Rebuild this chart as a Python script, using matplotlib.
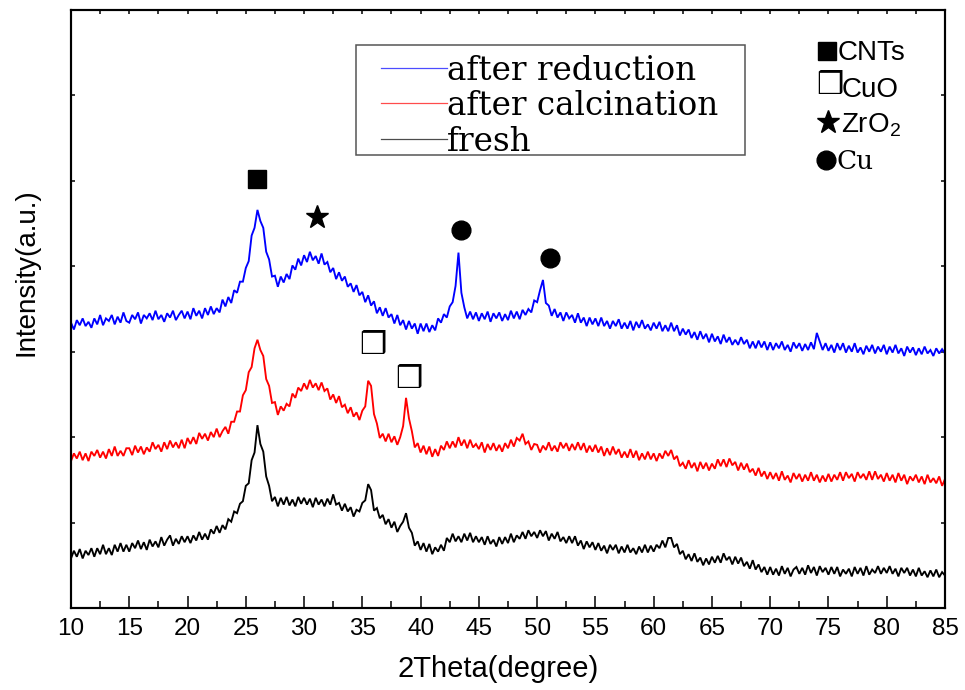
import numpy as np
import matplotlib
matplotlib.use("Agg")
import matplotlib.pyplot as plt
from matplotlib.patches import Rectangle
from matplotlib.ticker import MultipleLocator

# ---------------- data ----------------
# scan angles 2theta: 10 .. 85 deg, 0.25 deg step (301 points)
theta = np.linspace(10, 85, 301)

after_reduction = [
    334, 326, 337, 331, 339, 330, 335, 328, 339, 332, 343, 331, 339, 336, 343, 332, 341, 334, 346, 336,
    334, 343, 338, 346, 333, 343, 339, 345, 337, 348, 338, 343, 335, 345, 340, 348, 337, 343, 348, 339,
    347, 338, 351, 342, 348, 339, 351, 343, 353, 344, 351, 346, 361, 353, 364, 357, 372, 369, 382, 382,
    398, 406, 436, 445, 466, 453, 445, 417, 408, 388, 389, 376, 388, 381, 391, 385, 401, 396, 409, 401,
    413, 405, 417, 407, 412, 403, 415, 402, 405, 393, 398, 385, 393, 383, 388, 376, 380, 370, 378, 366,
    370, 358, 366, 354, 359, 345, 352, 342, 351, 340, 344, 333, 343, 331, 337, 326, 336, 327, 333, 321,
    333, 324, 333, 323, 331, 325, 339, 334, 344, 340, 353, 358, 377, 416, 369, 352, 339, 347, 338, 346,
    336, 345, 338, 347, 335, 345, 339, 346, 336, 344, 337, 348, 339, 347, 338, 349, 343, 350, 346, 360,
    358, 372, 384, 357, 354, 342, 350, 340, 346, 336, 346, 339, 343, 334, 345, 334, 340, 330, 340, 332,
    339, 330, 340, 330, 336, 327, 336, 330, 338, 327, 334, 327, 336, 325, 335, 328, 337, 327, 332, 325,
    334, 327, 335, 324, 331, 324, 334, 324, 331, 319, 327, 320, 326, 316, 323, 314, 324, 315, 321, 311,
    321, 312, 318, 309, 320, 311, 317, 308, 314, 308, 317, 309, 314, 304, 312, 304, 313, 305, 312, 302,
    311, 302, 310, 304, 312, 302, 308, 300, 311, 304, 310, 301, 309, 302, 311, 303, 322, 312, 302, 310,
    301, 308, 299, 310, 302, 310, 299, 307, 300, 310, 299, 305, 297, 307, 300, 308, 298, 306, 300, 308,
    297, 306, 299, 308, 298, 304, 295, 306, 299, 305, 296, 304, 297, 306, 298, 302, 295, 304, 298, 303, 298,
]

after_calcination = [
    172, 181, 175, 183, 173, 181, 172, 183, 178, 185, 176, 183, 175, 186, 178, 189, 178, 184, 178, 187,
    187, 179, 190, 182, 189, 180, 188, 183, 194, 186, 191, 183, 194, 186, 196, 188, 194, 187, 197, 187,
    199, 192, 200, 192, 205, 198, 204, 196, 206, 200, 210, 200, 207, 212, 204, 218, 218, 230, 230, 249,
    255, 276, 282, 304, 314, 302, 295, 268, 260, 240, 241, 226, 236, 231, 239, 236, 251, 246, 258, 254,
    263, 256, 267, 258, 263, 255, 264, 254, 257, 244, 250, 240, 248, 235, 238, 228, 235, 224, 229, 220,
    231, 236, 266, 260, 227, 216, 199, 204, 195, 204, 194, 201, 191, 200, 213, 246, 222, 207, 188, 193,
    182, 190, 180, 189, 177, 186, 178, 190, 185, 195, 187, 195, 188, 200, 190, 197, 187, 197, 188, 192,
    186, 194, 182, 192, 185, 193, 184, 191, 183, 193, 187, 197, 189, 199, 196, 204, 192, 195, 185, 192,
    191, 182, 190, 185, 194, 184, 190, 183, 194, 187, 193, 184, 192, 185, 194, 185, 193, 182, 190, 183,
    191, 182, 189, 178, 187, 179, 189, 180, 186, 176, 183, 176, 186, 176, 184, 173, 181, 174, 183, 174,
    181, 172, 181, 175, 184, 178, 185, 174, 178, 166, 170, 163, 173, 164, 170, 160, 171, 163, 170, 161,
    169, 163, 174, 166, 174, 165, 175, 167, 171, 161, 170, 162, 169, 159, 163, 155, 164, 154, 160, 151,
    159, 151, 158, 149, 160, 150, 155, 147, 158, 151, 157, 148, 156, 149, 159, 149, 156, 147, 155, 148,
    157, 148, 156, 150, 159, 149, 159, 152, 157, 148, 159, 152, 157, 150, 160, 150, 160, 151, 156, 148,
    158, 149, 156, 147, 158, 149, 156, 145, 154, 149, 156, 147, 154, 145, 156, 147, 152, 146, 154, 143, 151,
]

fresh = [
    58, 67, 60, 69, 58, 67, 62, 70, 60, 70, 63, 74, 63, 70, 62, 74, 66, 76, 66, 74,
    66, 76, 70, 79, 69, 77, 68, 80, 72, 78, 71, 83, 73, 80, 85, 73, 81, 75, 84, 77,
    84, 76, 85, 79, 89, 80, 87, 80, 92, 87, 96, 88, 97, 92, 104, 101, 113, 111, 122, 125,
    143, 146, 173, 182, 214, 192, 183, 154, 143, 125, 130, 119, 129, 121, 130, 120, 127, 119, 130, 122,
    129, 121, 128, 118, 129, 121, 127, 119, 128, 121, 133, 121, 123, 114, 122, 113, 118, 107, 115, 113,
    123, 126, 145, 138, 114, 117, 105, 109, 98, 104, 94, 101, 89, 96, 101, 111, 94, 88, 73, 78,
    68, 76, 66, 75, 63, 71, 66, 74, 67, 82, 77, 87, 78, 84, 77, 87, 79, 88, 77, 84,
    77, 83, 74, 84, 75, 80, 72, 83, 75, 83, 76, 87, 77, 85, 81, 89, 81, 91, 84, 89,
    82, 91, 84, 90, 79, 87, 81, 89, 78, 83, 76, 84, 76, 84, 73, 79, 69, 78, 71, 77,
    68, 76, 67, 73, 64, 74, 68, 74, 64, 72, 65, 74, 65, 70, 63, 72, 65, 74, 65, 73,
    66, 74, 70, 79, 71, 82, 82, 71, 75, 63, 67, 57, 63, 55, 64, 54, 59, 50, 58, 51,
    60, 53, 61, 53, 64, 56, 60, 51, 60, 52, 59, 49, 54, 46, 56, 45, 51, 42, 48, 39,
    48, 39, 46, 38, 49, 40, 47, 37, 45, 48, 40, 47, 39, 50, 41, 48, 38, 49, 42, 47,
    39, 48, 40, 48, 37, 45, 40, 46, 37, 48, 40, 47, 38, 49, 39, 45, 41, 49, 40, 47,
    41, 49, 40, 46, 37, 47, 41, 47, 38, 45, 37, 47, 38, 43, 36, 44, 37, 45, 36, 42, 38,
]

series_labels = ["after reduction", "after calcination", "fresh"]
series_colors = ["#0000ff", "#ff0000", "#000000"]

# peak annotations: (2theta, intensity) positions of phase symbols
cnt_peaks = [(26.0, 502)]
zro2_peaks = [(31.1, 458)]
cu_peaks = [(43.5, 443), (51.1, 410)]
cuo_peaks = [(35.9, 307), (39.0, 268)]

key_labels = ["CNTs", "CuO", r"ZrO$_\mathregular{2}$", "Cu"]

x_ticks = list(range(10, 90, 5))

# ---------------- figure ----------------
W, H = 965, 690
fig = plt.figure(figsize=(W / 100, H / 100), dpi=100)
ax = fig.add_axes([71 / W, 82 / H, 874 / W, 598 / H])

for ys, lab, col in zip([after_reduction, after_calcination, fresh], series_labels, series_colors):
    ax.plot(theta, ys, color=col, lw=1.35, label=lab, solid_joinstyle="miter")

ax.set_xlim(10, 85)
ax.set_ylim(0, 700)

for s in ax.spines.values():
    s.set_linewidth(1.5)

ax.set_xticks(x_ticks)
ax.set_xticklabels([str(t) for t in x_ticks], fontsize=17.5, family="Liberation Sans")
ax.xaxis.set_minor_locator(MultipleLocator(2.5))
ax.tick_params(axis="x", which="major", direction="in", length=9, width=1.1, pad=7, top=False)
ax.tick_params(axis="x", which="minor", direction="in", length=5, width=1.1, top=False)
ax.yaxis.set_major_locator(MultipleLocator(100))
ax.tick_params(axis="y", which="major", direction="in", length=3, width=1.1, left=True, right=True,
               labelleft=False)

axt = ax.twiny()
axt.set_xlim(10, 85)
axt.xaxis.set_major_locator(MultipleLocator(2.5))
axt.tick_params(axis="x", which="major", direction="in", length=3, width=1.1, labeltop=False)
for s in axt.spines.values():
    s.set_linewidth(1.5)

ax.set_xlabel("2Theta(degree)", fontsize=21, family="Liberation Sans", va="top")
ax.xaxis.set_label_coords(0.4886, -0.078)
ax.set_ylabel("Intensity(a.u.)", fontsize=20, family="Liberation Sans")
ax.yaxis.set_label_coords(-0.036, 0.562)

# peak symbols
for (x, y) in cnt_peaks:
    ax.plot([x], [y], marker="s", ms=13.5, color="black", ls="none")
for (x, y) in zro2_peaks:
    ax.plot([x], [y], marker="*", ms=17, color="black", ls="none")
for (x, y) in cu_peaks:
    ax.plot([x], [y], marker="o", ms=13.5, color="black", ls="none")
for (x, y) in cuo_peaks:
    ax.text(x, y, "\u2752", fontsize=22, family="DejaVu Sans", ha="center", va="center")

# legend box (manual, axes coordinates)
tr = ax.transAxes
ax.add_patch(Rectangle((0.326, 0.7575), 0.445, 0.184, transform=tr, fill=False,
                       edgecolor="#555555", lw=1.1))
rows = [0.9035, 0.844, 0.7843]
for ry, lab, col in zip(rows, series_labels, series_colors):
    ax.plot([0.3547, 0.4302], [ry, ry], color=col, lw=0.9, transform=tr, alpha=0.7)
    ax.text(0.4302, ry - 0.020, lab, transform=tr, fontsize=23.5, family="DejaVu Serif",
            ha="left", va="baseline")

# phase key
def ax_x(px):
    return (px - 71) / 874

def ax_y(py):
    return (608 - py) / 598

ax.plot([ax_x(827.5)], [ax_y(51)], marker="s", ms=13.5, color="black", transform=tr, clip_on=False)
ax.text(ax_x(830), ax_y(85.5), "\u2752", fontsize=22, family="DejaVu Sans", ha="center", va="center",
        transform=tr)
ax.plot([ax_x(828)], [ax_y(121.5)], marker="*", ms=17, color="black", transform=tr, clip_on=False)
ax.plot([ax_x(826.5)], [ax_y(160)], marker="o", ms=13.5, color="black", transform=tr, clip_on=False)

ax.text(ax_x(838), ax_y(60), key_labels[0], fontsize=20, family="Liberation Sans", transform=tr,
        va="baseline")
ax.text(ax_x(842), ax_y(96.7), key_labels[1], fontsize=20, family="Liberation Sans", transform=tr,
        va="baseline")
ax.text(ax_x(841), ax_y(132.3), key_labels[2], fontsize=20, family="Liberation Sans", transform=tr,
        va="baseline")
ax.text(ax_x(837), ax_y(169), key_labels[3], fontsize=19, family="DejaVu Serif", transform=tr,
        va="baseline")

fig.savefig("out.png", dpi=100)
